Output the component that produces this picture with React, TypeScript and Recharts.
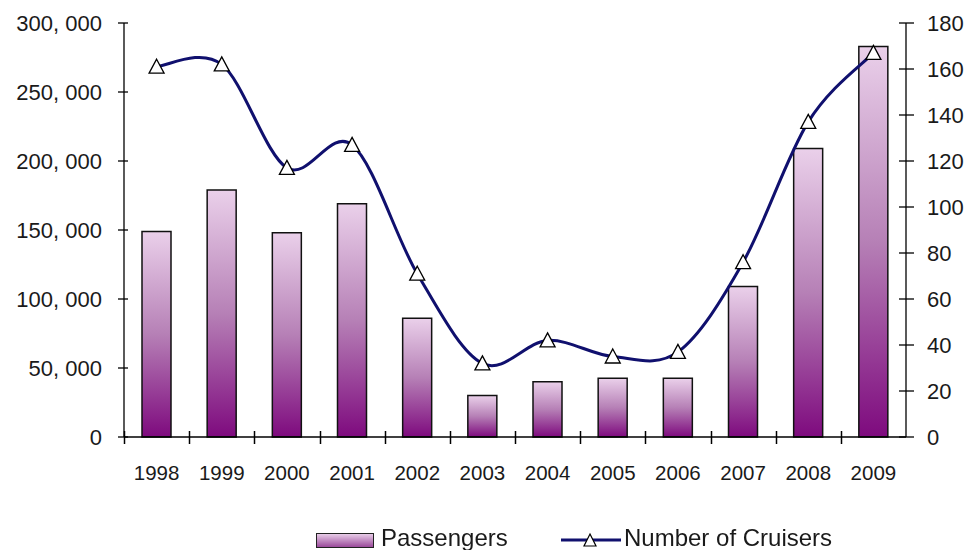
import React from "react";
import { ComposedChart, Bar, Line, XAxis, YAxis, Legend } from "recharts";

const years = ["1998", "1999", "2000", "2001", "2002", "2003", "2004", "2005", "2006", "2007", "2008", "2009"];
const passengers = [149000, 179000, 148000, 169000, 86000, 30000, 40000, 42500, 42500, 109000, 209000, 283000];
const cruisers = [161, 162, 117, 127, 71, 32, 42, 35, 37, 76, 137, 167];
const passengerTicks = [0, 50000, 100000, 150000, 200000, 250000, 300000];
const cruiserTicks = [0, 20, 40, 60, 80, 100, 120, 140, 160, 180];

const data = years.map((year, i) => ({ year, passengers: passengers[i], cruisers: cruisers[i] }));

const W = 972;
const H = 550;
const LEFT = 124;
const RIGHT = 66;
const TOP = 23;
const X_AXIS_H = 113;
const PLOT_W = W - LEFT - RIGHT;
const BAND = PLOT_W / years.length;

const NAVY = "#10106e";
const INK = "#1a1a1a";
const FONT = "'Liberation Sans', Arial, Helvetica, sans-serif";

// Excel-style smoothed line: cubic Bezier through every point (Catmull-Rom, tension 1/6)
function smoothCurve(context: any) {
  let pts: [number, number][] = [];
  return {
    areaStart() {},
    areaEnd() {},
    lineStart() {
      pts = [];
    },
    point(x: number, y: number) {
      pts.push([+x, +y]);
    },
    lineEnd() {
      if (!pts.length) return;
      context.moveTo(pts[0][0], pts[0][1]);
      for (let i = 0; i < pts.length - 1; i++) {
        const p0 = pts[Math.max(i - 1, 0)];
        const p1 = pts[i];
        const p2 = pts[i + 1];
        const p3 = pts[Math.min(i + 2, pts.length - 1)];
        context.bezierCurveTo(
          p1[0] + (p2[0] - p0[0]) / 6,
          p1[1] + (p2[1] - p0[1]) / 6,
          p2[0] - (p3[0] - p1[0]) / 6,
          p2[1] - (p3[1] - p1[1]) / 6,
          p2[0],
          p2[1]
        );
      }
    },
  };
}

const fmtThousands = (v: number) => v.toLocaleString("en-US").replace(/,/g, ", ");

function LeftTick(props: any) {
  const { x, y, payload } = props;
  return (
    <g>
      <line x1={x - 6} x2={x + 4} y1={y} y2={y} stroke="#000" strokeWidth={1.3} />
      <text x={x - 22} y={y} dy="0.36em" textAnchor="end" fontSize={22} fill={INK} fontFamily={FONT}>
        {fmtThousands(payload.value)}
      </text>
    </g>
  );
}

function RightTick(props: any) {
  const { x, y, payload } = props;
  return (
    <g>
      <line x1={x - 7} x2={x + 8} y1={y} y2={y} stroke="#000" strokeWidth={1.3} />
      <text x={x + 21} y={y} dy="0.36em" textAnchor="start" fontSize={22} fill={INK} fontFamily={FONT}>
        {payload.value}
      </text>
    </g>
  );
}

// year label at the category centre, tick mark on the boundary to its left
function YearTick(props: any) {
  const { x, y, payload } = props;
  const bx = Math.round(x - BAND / 2) + 0.5;
  return (
    <g>
      <line x1={bx} x2={bx} y1={y - 6} y2={y + 7} stroke="#000" strokeWidth={1.5} />
      <text x={x} y={y + 43} textAnchor="middle" fontSize={20.5} fill={INK} fontFamily={FONT}>
        {payload.value}
      </text>
    </g>
  );
}

function TriangleDot(props: any) {
  const { cx, cy } = props;
  if (cx == null || cy == null) return null;
  return (
    <path
      d={`M${cx},${cy - 7.5} L${cx + 7.5},${cy + 6.5} L${cx - 7.5},${cy + 6.5} Z`}
      fill="#fff"
      stroke="#000"
      strokeWidth={1.3}
    />
  );
}

function LegendBox() {
  const text = { fontSize: 24, color: INK, fontFamily: FONT, lineHeight: "28px" } as const;
  return (
    <div style={{ position: "relative", width: W, height: 36 }}>
      <div
        style={{
          position: "absolute",
          left: 316,
          top: 18,
          width: 56,
          height: 13,
          border: "1px solid #222",
          background: "linear-gradient(#e8cce8, #9a4a9a)",
        }}
      />
      <div style={{ ...text, position: "absolute", left: 381, top: 9 }}>Passengers</div>
      <svg style={{ position: "absolute", left: 561, top: 17 }} width={60} height={20}>
        <line x1={0} x2={60} y1={8} y2={8} stroke={NAVY} strokeWidth={3} />
        <path d="M29,2 L35,14 L23,14 Z" fill="#fff" stroke="#000" strokeWidth={1.2} />
      </svg>
      <div style={{ ...text, position: "absolute", left: 624, top: 9 }}>Number of Cruisers</div>
    </div>
  );
}

export default function App() {
  return (
    <div style={{ position: "fixed", left: 0, top: 0, width: W, height: H, background: "#fff" }}>
      <ComposedChart
        width={W}
        height={H}
        data={data}
        margin={{ top: TOP, right: 0, bottom: 0, left: 0 }}
        barCategoryGap={0}
      >
        <defs>
          <linearGradient id="barFill" x1="0" y1="0" x2="0" y2="1">
            <stop offset="0%" stopColor="#ead0ea" />
            <stop offset="50%" stopColor="#b680b6" />
            <stop offset="100%" stopColor="#7e0a7e" />
          </linearGradient>
        </defs>
        <XAxis
          dataKey="year"
          height={X_AXIS_H}
          tickSize={0}
          tickMargin={0}
          tickLine={false}
          axisLine={{ stroke: "#000", strokeWidth: 1.3 }}
          tick={<YearTick />}
          interval={0}
        />
        <YAxis
          yAxisId="left"
          width={LEFT}
          domain={[0, 300000]}
          ticks={passengerTicks}
          tickSize={0}
          tickMargin={0}
          tickLine={false}
          axisLine={{ stroke: "#000", strokeWidth: 1.3 }}
          tick={<LeftTick />}
        />
        <YAxis
          yAxisId="right"
          orientation="right"
          width={RIGHT}
          domain={[0, 180]}
          ticks={cruiserTicks}
          tickSize={0}
          tickMargin={0}
          tickLine={false}
          axisLine={{ stroke: "#000", strokeWidth: 1.3 }}
          tick={<RightTick />}
        />
        <Legend
          layout="vertical"
          align="center"
          verticalAlign="middle"
          content={<LegendBox />}
          wrapperStyle={{ position: "absolute", left: 0, top: 515, width: W, height: 36 }}
        />
        <Bar
          yAxisId="left"
          dataKey="passengers"
          name="Passengers"
          barSize={29}
          fill="url(#barFill)"
          stroke="#111"
          strokeWidth={1.5}
          isAnimationActive={false}
        />
        <Line
          yAxisId="right"
          dataKey="cruisers"
          name="Number of Cruisers"
          type={smoothCurve as any}
          stroke={NAVY}
          strokeWidth={3}
          dot={<TriangleDot />}
          activeDot={false}
          isAnimationActive={false}
        />
      </ComposedChart>
    </div>
  );
}
